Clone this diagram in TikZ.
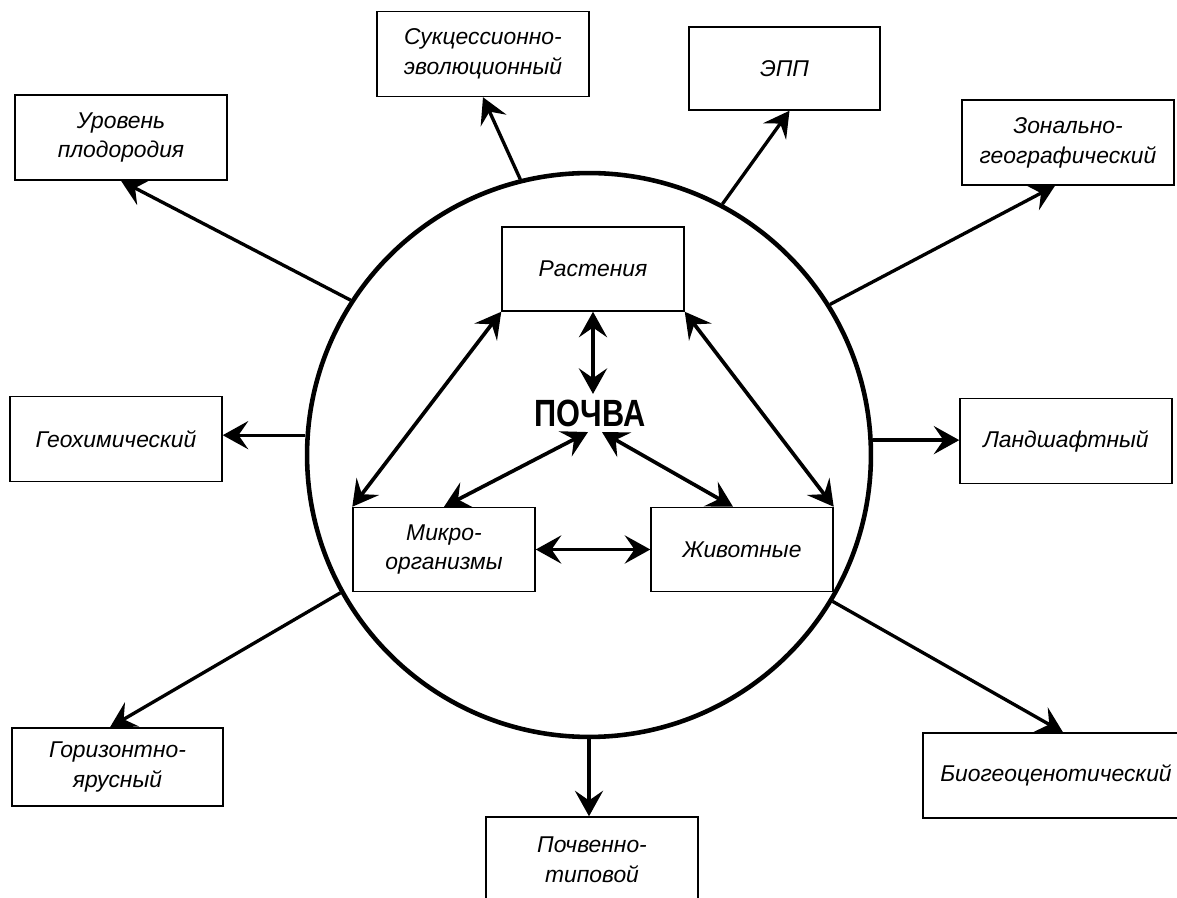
\documentclass[tikz,border=0pt]{standalone}
\usepackage{fontspec}
\setmainfont{Liberation Sans}
\usetikzlibrary{arrows.meta,positioning,calc}

\begin{document}
\begin{tikzpicture}[x=0.02cm, y=-0.02cm,
  >={Stealth[length=14.5pt,width=16pt,inset=5.5pt]},
  box/.style={draw, line width=0.85pt, align=center, inner sep=0pt,
    font=\fontsize{13}{17}\selectfont\itshape},
  outbox/.style={box, minimum width=4.24cm, minimum height=1.7cm},
  inbox/.style={box, minimum width=3.64cm, minimum height=1.68cm},
  arr/.style={->, line width=1.9pt},
  darr/.style={<->, line width=2.1pt}]
  \clip (0,0) rectangle (1177,898);
  % soil circle and title
  \node[circle, draw, line width=2.6pt, minimum size=11.28cm, inner sep=0pt] (soil) at (589,455) {};
  \node[inner sep=3pt] (soiltxt) at (590,413)
    {\scalebox{0.81}[1]{\fontsize{21.6}{24}\selectfont\bfseries ПОЧВА}};
  % inner components
  \node[inbox] (rast) at (593,269) {Растения};
  \node[inbox] (micro) at (444,549.5) {Микро-\\организмы};
  \node[inbox] (anim) at (742,549.5) {Животные};
  % outer approaches
  \node[outbox] (urov) at (121,137.5) {Уровень\\плодородия};
  \node[outbox] (sukc) at (483,54) {Сукцессионно-\\эволюционный};
  \node[box, minimum width=3.82cm, minimum height=1.66cm] (epp) at (784.5,68.5) {ЭПП};
  \node[outbox] (zon) at (1068,142.5) {Зонально-\\географический};
  \node[outbox] (geo) at (116,439) {Геохимический};
  \node[outbox] (land) at (1066,441) {Ландшафтный};
  \node[box, minimum width=4.22cm, minimum height=1.56cm] (gor) at (117.5,767) {Горизонтно-\\ярусный};
  \node[outbox] (poch) at (592,859.5) {Почвенно-\\типовой};
  \node[box, minimum width=5.32cm, minimum height=1.7cm] (bio) at (1056,775.5) {Биогеоценотический};
  % arrows from the circle
  \draw[arr] (soil.147.5) -- (urov.south);
  \draw[arr] (soil.104.5) -- (sukc.south);
  \draw[arr] (soil.62.3) -- ([xshift=0.1cm]epp.south);
  \draw[arr] (soil.32.4) -- ([xshift=-0.26cm]zon.south);
  \draw[arr] (soil.176.5) -- (geo.east |- soil.176.5);
  \draw[arr] (soil.3.5) -- (land.west |- soil.3.5);
  \draw[arr] (soil.209.5) -- ([xshift=-0.15cm]gor.north);
  \draw[arr] (soil.270) -- (poch.north -| soil.270);
  \draw[arr] (soil.329.6) -- ([xshift=0.14cm]bio.north);
  % links inside
  \draw[darr] (rast.south) -- (rast.south |- soiltxt.north);
  \draw[darr] (rast.south west) -- (micro.north west);
  \draw[darr] (rast.south east) -- (anim.north east);
  \draw[darr] ([xshift=-0.04cm]soiltxt.south) -- (micro.north);
  \draw[darr] ([xshift=0.24cm]soiltxt.south) -- ([xshift=-0.18cm]anim.north);
  \draw[darr] (micro.east) -- (anim.west);
\end{tikzpicture}
\end{document}
